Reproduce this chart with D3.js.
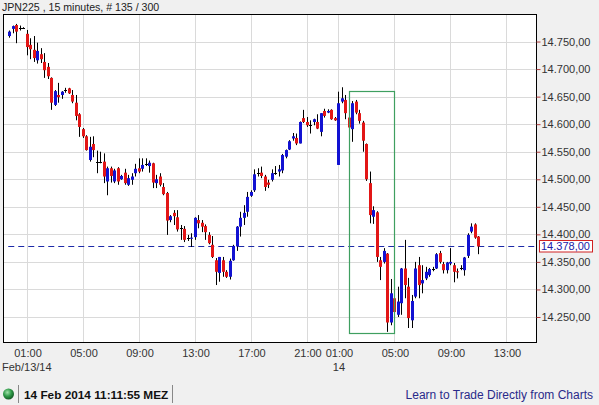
<!DOCTYPE html>
<html>
<head>
<meta charset="utf-8">
<script src="https://cdn.jsdelivr.net/npm/d3@7"></script>
<style>
  body { margin: 0; background: #f0f0f0; }
  svg { display: block; font-family: "Liberation Sans", Arial, sans-serif; }
</style>
</head>
<body>
<div id="vis"></div>
<script>
// ---- Data (JPN225, 15 min candles) ----
const opens = [
  14760,14773,14780,14775,14775,14764,14744,14735,14716,14727,
  14713,14704,14684,14635,14653,14653,14662,14665,14653,14639,
  14618,14591,14578,14535,14564,14532,14532,14532,14496,14520,
  14496,14520,14500,14512,14490,14499,14511,14520,14519,14528,
  14524,14529,14493,14505,14486,14475,14426,14439,14431,14411,
  14410,14393,14392,14395,14426,14421,14415,14399,14381,14353,
  14330,14353,14332,14323,14353,14378,14414,14430,14441,14470,
  14480,14511,14512,14505,14494,14499,14512,14514,14516,14541,
  14554,14574,14575,14565,14611,14604,14598,14604,14604,14586,
  14624,14621,14626,14611,14526,14641,14644,14612,14591,14641,
  14620,14603,14564,14493,14432,14440,14353,14350,14365,14240,
  14284,14254,14275,14338,14305,14244,14287,14344,14311,14320,
  14326,14338,14338,14366,14346,14335,14347,14344,14333,14339,
  14335,14361,14405,14418,14396
];
const highs = [
  14770,14779,14782,14779,14776,14771,14756,14760,14748,14738,
  14729,14711,14685,14662,14675,14660,14666,14666,14662,14653,
  14620,14593,14580,14577,14578,14552,14550,14547,14523,14523,
  14519,14522,14508,14519,14508,14511,14528,14538,14538,14538,
  14534,14530,14508,14511,14493,14477,14435,14444,14444,14417,
  14415,14399,14402,14431,14435,14426,14418,14404,14397,14357,
  14359,14359,14335,14356,14381,14415,14441,14453,14477,14480,
  14518,14520,14523,14508,14499,14518,14524,14526,14546,14554,
  14571,14584,14583,14605,14626,14613,14607,14610,14618,14620,
  14628,14627,14627,14613,14659,14667,14653,14613,14642,14644,
  14626,14606,14565,14514,14451,14442,14359,14375,14366,14319,
  14285,14305,14339,14390,14321,14290,14350,14359,14344,14341,
  14339,14341,14366,14370,14350,14350,14375,14348,14338,14344,
  14359,14402,14420,14420,14397
];
const lows = [
  14757,14765,14747,14770,14774,14725,14718,14713,14710,14711,
  14684,14682,14626,14633,14639,14646,14657,14655,14638,14607,
  14577,14575,14552,14532,14540,14511,14529,14493,14471,14494,
  14493,14490,14499,14490,14488,14490,14505,14511,14514,14524,
  14512,14484,14484,14487,14471,14399,14422,14417,14405,14390,
  14386,14388,14377,14390,14411,14404,14390,14382,14357,14308,
  14314,14323,14321,14318,14352,14370,14396,14417,14432,14468,
  14477,14505,14502,14479,14484,14496,14508,14505,14511,14538,
  14553,14570,14562,14565,14602,14595,14583,14598,14591,14578,
  14612,14620,14608,14606,14526,14638,14609,14593,14568,14618,
  14601,14550,14497,14420,14419,14350,14317,14347,14223,14235,
  14258,14250,14254,14284,14230,14230,14284,14284,14293,14317,
  14323,14333,14337,14347,14329,14329,14344,14313,14320,14335,
  14325,14357,14402,14392,14364
];
const closes = [
  14768,14778,14768,14775,14775,14740,14736,14720,14733,14718,
  14698,14687,14639,14660,14649,14659,14662,14656,14641,14615,
  14595,14578,14553,14559,14553,14532,14532,14505,14520,14506,
  14516,14496,14506,14493,14502,14505,14519,14514,14526,14528,
  14530,14494,14500,14490,14473,14425,14433,14433,14409,14411,
  14390,14393,14394,14430,14420,14414,14404,14384,14359,14332,
  14359,14332,14323,14352,14379,14414,14430,14439,14468,14477,
  14509,14511,14506,14486,14490,14511,14512,14518,14544,14553,
  14569,14578,14565,14604,14604,14598,14598,14609,14592,14620,
  14615,14624,14609,14607,14638,14647,14620,14594,14638,14621,
  14606,14570,14500,14435,14444,14359,14341,14370,14240,14293,
  14259,14278,14338,14308,14248,14279,14338,14308,14317,14332,
  14337,14338,14364,14350,14335,14349,14350,14332,14331,14339,
  14358,14399,14414,14394,14378
];

// x axis: candle index of each time label
const timeTickIdx = [5, 21, 37, 53, 69, 85, 94, 110, 126, 142];
const timeTickLabels = ["01:00","05:00","09:00","13:00","17:00","21:00","01:00","05:00","09:00","13:00"];
const dateLabels = ["Feb/13/14", "14"];
const dateLabelIdx = [null, 94];

// y axis ticks
const priceTicks = [14250, 14300, 14350, 14400, 14450, 14500, 14550, 14600, 14650, 14700, 14750];
const lastPrice = 14378;

// highlight box (candle index range, price range)
const boxIdx = [97, 110];
const boxPrice = [14660, 14220];

const outerWidth = 599;
const outerHeight = 405;
const plot = { left: 3, top: 14, right: 536, bottom: 342 };

const de = d3.formatLocale({ decimal: ",", thousands: ".", grouping: [3], currency: ["", ""] });
const fmtPrice = de.format(",.2f");

const x = d3.scaleLinear().domain([-2, 150.3]).range([plot.left, plot.right]);
const y = d3.scaleLinear().domain([14204.6, 14800]).range([plot.bottom, plot.top]);

const svg = d3.select("#vis")
  .append("svg")
  .attr("width", outerWidth)
  .attr("height", outerHeight);

svg.append("rect")
  .attr("width", outerWidth).attr("height", outerHeight)
  .attr("fill", "#f0f0f0");

// plot background
svg.append("rect")
  .attr("x", plot.left).attr("y", plot.top)
  .attr("width", plot.right - plot.left).attr("height", plot.bottom - plot.top)
  .attr("fill", "#fff");

// ---- grid ----
const grid = svg.append("g").attr("stroke", "#dadada").attr("stroke-width", 1);
grid.selectAll(".h")
  .data(priceTicks)
  .join("line")
  .attr("x1", plot.left).attr("x2", plot.right)
  .attr("y1", d => Math.round(y(d)) + 0.5)
  .attr("y2", d => Math.round(y(d)) + 0.5);
grid.selectAll(".v")
  .data(timeTickIdx)
  .join("line")
  .attr("x1", d => Math.floor(x(d)) + 0.5)
  .attr("x2", d => Math.floor(x(d)) + 0.5)
  .attr("y1", plot.top).attr("y2", plot.bottom);

// last price dashed line
svg.append("line")
  .attr("x1", x(-0.5)).attr("x2", plot.right + 2)
  .attr("y1", Math.round(y(lastPrice)) + 0.5)
  .attr("y2", Math.round(y(lastPrice)) + 0.5)
  .attr("stroke", "#1c2aa8")
  .attr("stroke-width", 1.2)
  .attr("stroke-dasharray", "6,4");

// ---- candles ----
const candles = d3.range(opens.length).map(i => ({
  i, o: opens[i], h: highs[i], l: lows[i], c: closes[i]
}));

const cg = svg.append("g")
  .selectAll("g")
  .data(candles)
  .join("g");

cg.append("line")
  .attr("x1", d => Math.floor(x(d.i)) + 0.5)
  .attr("x2", d => Math.floor(x(d.i)) + 0.5)
  .attr("y1", d => y(d.h))
  .attr("y2", d => y(d.l))
  .attr("stroke", "#000")
  .attr("stroke-width", 1);

cg.append("rect")
  .attr("x", d => Math.floor(x(d.i)) - 1)
  .attr("width", 3)
  .attr("y", d => Math.abs(d.o - d.c) < 1.5 ? Math.round(y(d.o)) : y(Math.max(d.o, d.c)))
  .attr("height", d => Math.abs(d.o - d.c) < 1.5 ? 1 : Math.max(1, y(Math.min(d.o, d.c)) - y(Math.max(d.o, d.c))))
  .attr("fill", d => Math.abs(d.o - d.c) < 1.5 ? "#000" : (d.c > d.o ? "#1212d2" : "#e21616"));

// highlight box
svg.append("rect")
  .attr("x", Math.floor(x(boxIdx[0])) + 0.5)
  .attr("y", Math.round(y(boxPrice[0])) + 0.5)
  .attr("width", Math.round(x(boxIdx[1]) - x(boxIdx[0])))
  .attr("height", Math.round(y(boxPrice[1]) - y(boxPrice[0])))
  .attr("fill", "none")
  .attr("stroke", "#3f9f60")
  .attr("stroke-width", 1.2);

// frame
svg.append("rect")
  .attr("x", plot.left + 0.5).attr("y", plot.top + 0.5)
  .attr("width", plot.right - plot.left).attr("height", plot.bottom - plot.top)
  .attr("fill", "none")
  .attr("stroke", "#000");

// ---- y axis (right) ----
const yAxis = svg.append("g")
  .attr("transform", `translate(${plot.right + 0.5},0)`)
  .call(d3.axisRight(y).tickValues(priceTicks).tickSize(4).tickPadding(1).tickFormat(fmtPrice));
yAxis.select(".domain").remove();
yAxis.selectAll(".tick line").attr("stroke", "#b03a3a");
yAxis.selectAll(".tick text")
  .attr("fill", "#333")
  .style("font-size", "11px")
  .style("font-family", "'Liberation Sans', Arial, sans-serif");

// last price tag
const tagY = y(lastPrice);
svg.append("rect")
  .attr("x", plot.right + 3.5).attr("y", Math.round(tagY) - 5.5)
  .attr("width", 53).attr("height", 11.5)
  .attr("fill", "#fff")
  .attr("stroke", "#d02222");
svg.append("text")
  .attr("x", plot.right + 5).attr("y", tagY)
  .attr("dy", "0.35em")
  .attr("fill", "#2020a8")
  .style("font-size", "11px")
  .text(fmtPrice(lastPrice));

// ---- x axis ----
const xAxis = svg.append("g")
  .attr("transform", `translate(0,${plot.bottom})`)
  .call(d3.axisBottom(x).tickValues(timeTickIdx).tickSize(0).tickPadding(7)
    .tickFormat((d, i) => timeTickLabels[i]));
xAxis.select(".domain").remove();
xAxis.selectAll(".tick text")
  .attr("fill", "#333")
  .style("font-size", "11px")
  .style("font-family", "'Liberation Sans', Arial, sans-serif");

svg.selectAll(".datelbl")
  .data(dateLabels)
  .join("text")
  .attr("x", (d, i) => dateLabelIdx[i] === null ? plot.left - 1 : x(dateLabelIdx[i]))
  .attr("y", 371)
  .attr("text-anchor", (d, i) => dateLabelIdx[i] === null ? "start" : "middle")
  .attr("fill", "#333")
  .style("font-size", "11px")
  .text(d => d);

// title
svg.append("text")
  .attr("x", 2).attr("y", 10.5)
  .attr("fill", "#222")
  .style("font-size", "10.6px")
  .text("JPN225 , 15 minutes, # 135 / 300");

// ---- bottom bar ----
const grad = svg.append("defs").append("radialGradient")
  .attr("id", "led").attr("cx", "40%").attr("cy", "35%").attr("r", "65%");
grad.append("stop").attr("offset", "0%").attr("stop-color", "#9fe0a8");
grad.append("stop").attr("offset", "55%").attr("stop-color", "#2f9a48");
grad.append("stop").attr("offset", "100%").attr("stop-color", "#145c25");

svg.append("circle")
  .attr("cx", 8.5).attr("cy", 394).attr("r", 5.5)
  .attr("fill", "url(#led)");

svg.selectAll(".sep")
  .data([18.5, 172.5])
  .join("line")
  .attr("x1", d => d).attr("x2", d => d)
  .attr("y1", 385).attr("y2", 403)
  .attr("stroke", "#888");

svg.append("text")
  .attr("x", 24).attr("y", 398.5)
  .attr("fill", "#111")
  .style("font-size", "11.8px")
  .style("font-weight", "bold")
  .text("14 Feb 2014 11:11:55 MEZ");

svg.append("text")
  .attr("x", 593).attr("y", 398.5)
  .attr("text-anchor", "end")
  .attr("fill", "#2a2a8a")
  .style("font-size", "12px")
  .text("Learn to Trade Directly from Charts");
</script>
</body>
</html>
